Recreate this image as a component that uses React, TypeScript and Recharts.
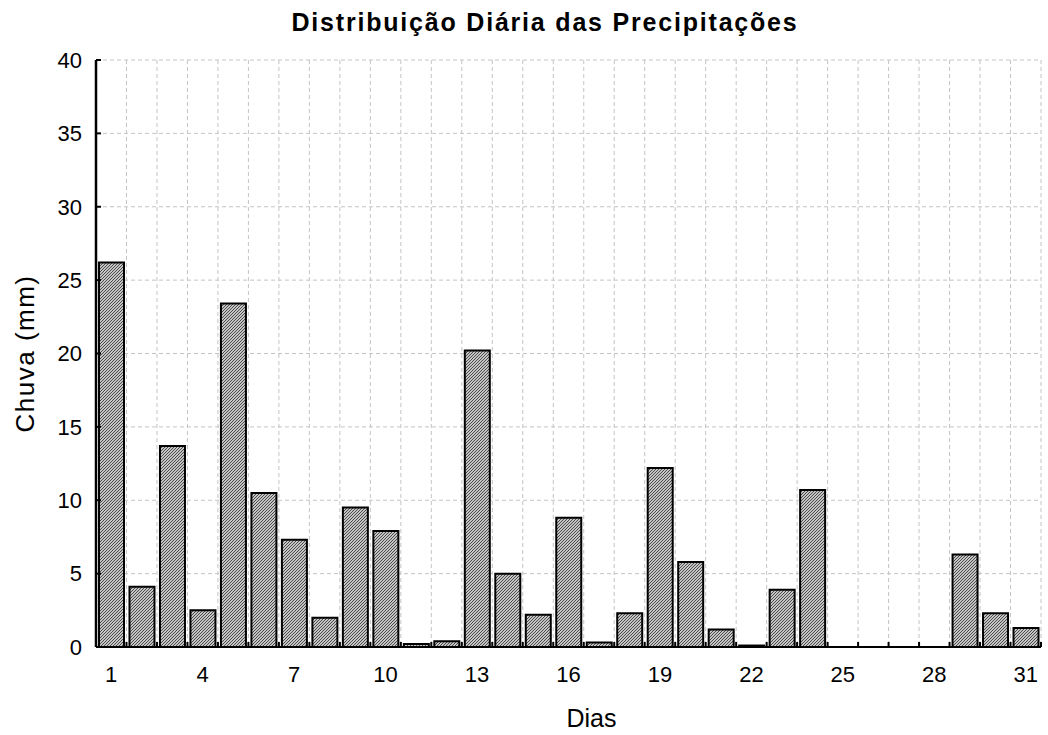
import React from "react";
import { BarChart, Bar, XAxis, YAxis, CartesianGrid } from "recharts";

const days = [1, 2, 3, 4, 5, 6, 7, 8, 9, 10, 11, 12, 13, 14, 15, 16, 17, 18, 19, 20, 21, 22, 23, 24, 25, 26, 27, 28, 29, 30, 31];
const rain = [26.2, 4.1, 13.7, 2.5, 23.4, 10.5, 7.3, 2.0, 9.5, 7.9, 0.2, 0.4, 20.2, 5.0, 2.2, 8.8, 0.3, 2.3, 12.2, 5.8, 1.2, 0.1, 3.9, 10.7, 0, 0, 0, 0, 6.3, 2.3, 1.3];
const dayLabels = [1, 4, 7, 10, 13, 16, 19, 22, 25, 28, 31];
const dayEdges = [0.5, 1.5, 2.5, 3.5, 4.5, 5.5, 6.5, 7.5, 8.5, 9.5, 10.5, 11.5, 12.5, 13.5, 14.5, 15.5, 16.5, 17.5, 18.5, 19.5, 20.5, 21.5, 22.5, 23.5, 24.5, 25.5, 26.5, 27.5, 28.5, 29.5, 30.5, 31.5];
const rainTicks = [0, 5, 10, 15, 20, 25, 30, 35, 40];

const data = days.map((d, i) => ({ day: d, chuva: rain[i] }));
const bottomTicks = [...dayEdges, ...dayLabels].sort((a, b) => a - b);

const FONT = "Arial, 'Liberation Sans', sans-serif";

// labels at the day centres, short inward marks at the day edges
function BottomTick(props: any) {
    const { x, y, payload } = props;
    if (Number.isInteger(payload.value)) {
        return (
            <text x={x} y={y + 35} textAnchor="middle" fontSize={22} fontFamily={FONT} fill="#000">
                {payload.value}
            </text>
        );
    }
    return <line x1={x} x2={x} y1={y} y2={y - 5} stroke="#000" strokeWidth={2} />;
}

export default function App() {
    return (
        <div style={{ position: "absolute", left: 0, top: 0, width: 1048, height: 735, background: "#fff" }}>
            <div
                style={{
                    position: "absolute",
                    left: 0,
                    top: 9,
                    width: 1090,
                    textAlign: "center",
                    fontFamily: FONT,
                    fontWeight: "bold",
                    fontSize: 25,
                    lineHeight: "27px",
                    letterSpacing: 1.8,
                    color: "#000",
                }}
            >
                Distribuição Diária das Precipitações
            </div>
            <BarChart width={1048} height={735} data={data} margin={{ top: 60, right: 7, bottom: 0, left: 0 }}>
                <defs>
                    <pattern id="hatch" width="3" height="3" patternUnits="userSpaceOnUse">
                        <rect width="3" height="3" fill="#fff" />
                        <path d="M-1,1 l2,-2 M0,3 l3,-3 M2,4 l2,-2" stroke="#444" strokeWidth={1.2} />
                    </pattern>
                </defs>
                <CartesianGrid xAxisId="top" stroke="#c4c4c4" strokeDasharray="4 3" />
                <XAxis
                    xAxisId="top"
                    orientation="top"
                    dataKey="day"
                    type="number"
                    domain={[0.5, 31.5]}
                    ticks={dayEdges}
                    interval={0}
                    height={0}
                    tickSize={-5}
                    tick={() => <g />}
                    tickLine={{ stroke: "#000", strokeWidth: 2 }}
                    axisLine={{ stroke: "#000", strokeWidth: 2 }}
                />
                <XAxis
                    dataKey="day"
                    type="number"
                    domain={[0.5, 31.5]}
                    ticks={bottomTicks}
                    interval={0}
                    height={88}
                    tickSize={0}
                    tickMargin={0}
                    tickLine={false}
                    tick={<BottomTick />}
                    axisLine={{ stroke: "#000", strokeWidth: 2 }}
                    label={{ value: "Dias", position: "insideBottom", offset: 8, dx: 23, fontSize: 25, fontFamily: FONT, fill: "#000" }}
                />
                <YAxis
                    domain={[0, 40]}
                    ticks={rainTicks}
                    interval={0}
                    width={96}
                    tickSize={-5}
                    tickMargin={19}
                    tick={{ fontSize: 22, fontFamily: FONT, fill: "#000" }}
                    tickLine={{ stroke: "#000", strokeWidth: 2 }}
                    axisLine={{ stroke: "#000", strokeWidth: 2.5 }}
                    label={{
                        value: "Chuva (mm)",
                        angle: -90,
                        position: "insideLeft",
                        offset: 25,
                        fontSize: 26,
                        fontFamily: FONT,
                        fill: "#000",
                        letterSpacing: 1.5,
                        style: { textAnchor: "middle" },
                    }}
                />
                <YAxis
                    yAxisId="r"
                    orientation="right"
                    domain={[0, 40]}
                    width={0}
                    tick={false}
                    tickLine={false}
                    axisLine={{ stroke: "#000", strokeWidth: 2 }}
                />
                <Bar
                    dataKey="chuva"
                    barSize={25}
                    fill="url(#hatch)"
                    stroke="#000"
                    strokeWidth={2}
                    isAnimationActive={false}
                />
            </BarChart>
        </div>
    );
}
